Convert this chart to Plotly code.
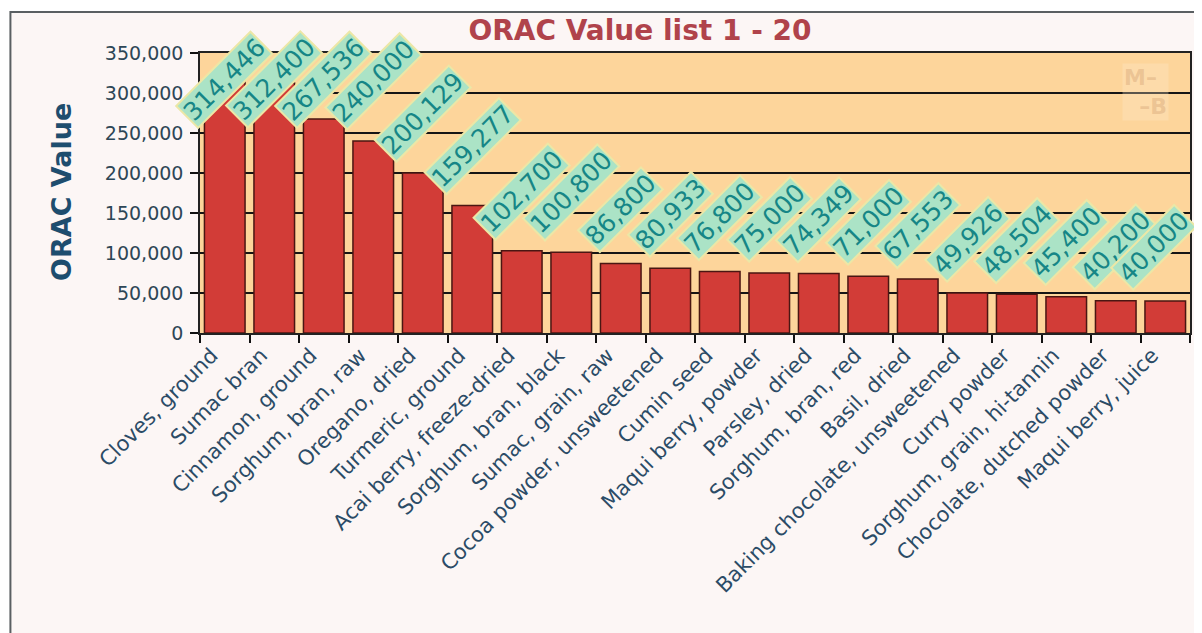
import plotly.graph_objects as go

categories = [
    "Cloves, ground", "Sumac bran", "Cinnamon, ground", "Sorghum, bran, raw",
    "Oregano, dried", "Turmeric, ground", "Acai berry, freeze-dried",
    "Sorghum, bran, black", "Sumac, grain, raw", "Cocoa powder, unsweetened",
    "Cumin seed", "Maqui berry, powder", "Parsley, dried", "Sorghum, bran, red",
    "Basil, dried", "Baking chocolate, unsweetened", "Curry powder",
    "Sorghum, grain, hi-tannin", "Chocolate, dutched powder", "Maqui berry, juice",
]
orac_values = [
    314446, 312400, 267536, 240000, 200129, 159277, 102700, 100800, 86800, 80933,
    76800, 75000, 74349, 71000, 67553, 49926, 48504, 45400, 40200, 40000,
]
y_ticks = [0, 50000, 100000, 150000, 200000, 250000, 300000, 350000]
y_tick_text = ["0", "50,000", "100,000", "150,000", "200,000", "250,000", "300,000", "350,000"]

TITLE = "ORAC Value list 1 - 20"
Y_TITLE = "ORAC Value"
LABEL_CAP = 242000      # labels of the tallest bars are kept inside the plot (top)
RIGHT_EDGE_SHIFT = -12  # label of the last bar is nudged left to stay inside the chart

FONT = "DejaVu Sans, Verdana, sans-serif"

fig = go.Figure()
fig.add_trace(go.Bar(
    x=categories, y=orac_values,
    marker=dict(color="#d23c37", line=dict(color="#4a1612", width=1.5)),
    hoverinfo="x+y",
))

annotations = []
n = len(categories)
for i, (c, v) in enumerate(zip(categories, orac_values)):
    annotations.append(dict(
        x=c, y=min(v, LABEL_CAP), xref="x", yref="y",
        text=f"{v:,}", textangle=-45, showarrow=False,
        xanchor="center", yanchor="bottom", yshift=10,
        xshift=RIGHT_EDGE_SHIFT if i == n - 1 else 0,
        font=dict(family=FONT, size=25, color="#168686"),
        bgcolor="#abe3c6", bordercolor="#ece7a6", borderwidth=2, borderpad=0,
    ))

# y-axis title
annotations.append(dict(
    x=-0.14, y=0.505, xref="paper", yref="paper", text=f"<b>{Y_TITLE}</b>",
    textangle=-90, showarrow=False, xanchor="center", yanchor="middle",
    font=dict(family=FONT, size=27, color="#1e4d6e"),
))
# watermark logo
annotations.append(dict(
    x=0.955, y=0.86, xref="paper", yref="paper", text="<b>M–<br>&nbsp;&nbsp;–B</b>",
    showarrow=False, xanchor="center", yanchor="middle",
    font=dict(family=FONT, size=22, color="rgba(196,140,95,0.30)"),
    bgcolor="rgba(255,236,205,0.30)", align="left",
))

shapes = [
    # white page margin at left and top
    dict(type="rect", xref="paper", yref="paper", x0=-0.3, x1=-0.1915, y0=-1.3, y1=1.3,
         fillcolor="white", line=dict(width=0), layer="above"),
    dict(type="rect", xref="paper", yref="paper", x0=-0.3, x1=1.1, y0=1.146, y1=1.3,
         fillcolor="white", line=dict(width=0), layer="above"),
    # outer chart border
    dict(type="rect", xref="paper", yref="paper", x0=-0.1915, x1=1.0075, y0=-1.2, y1=1.146,
         fillcolor="rgba(0,0,0,0)", line=dict(color="#5a5f62", width=2), layer="above"),
]

fig.update_layout(
    width=1194, height=625, autosize=False,
    margin=dict(l=192, r=10, t=45, b=300, pad=0),
    paper_bgcolor="#fcf6f5", plot_bgcolor="#fdd59b",
    showlegend=False, bargap=0.18,
    title=dict(text=f"<b>{TITLE}</b>", x=0.5293, xref="container", xanchor="center",
               y=0.9648, yref="container", yanchor="middle",
               font=dict(family=FONT, size=28, color="#b0434b")),
    annotations=annotations, shapes=shapes,
    font=dict(family=FONT),
)
fig.update_xaxes(
    type="category", range=[-0.5, n - 0.5], autorange=False,
    tickangle=-45, ticks="outside", tickson="boundaries",
    ticklen=8, tickwidth=1.5, tickcolor="#111",
    showline=True, linecolor="#222", linewidth=1.5, mirror=True, showgrid=False,
    ticklabelshift=-13,
    tickfont=dict(family=FONT, size=21, color="#2b4b66"),
)
fig.update_yaxes(
    range=[0, 350000], autorange=False, tickvals=y_ticks, ticktext=y_tick_text,
    ticks="outside", ticklen=8, tickwidth=1.5, tickcolor="#111",
    showline=True, linecolor="#222", linewidth=1.5, mirror=True,
    showgrid=True, gridcolor="#151515", gridwidth=1.5, zeroline=False,
    ticklabelstandoff=3,
    tickfont=dict(family=FONT, size=19, color="#2d4656"),
)

fig.write_html("out.html")
